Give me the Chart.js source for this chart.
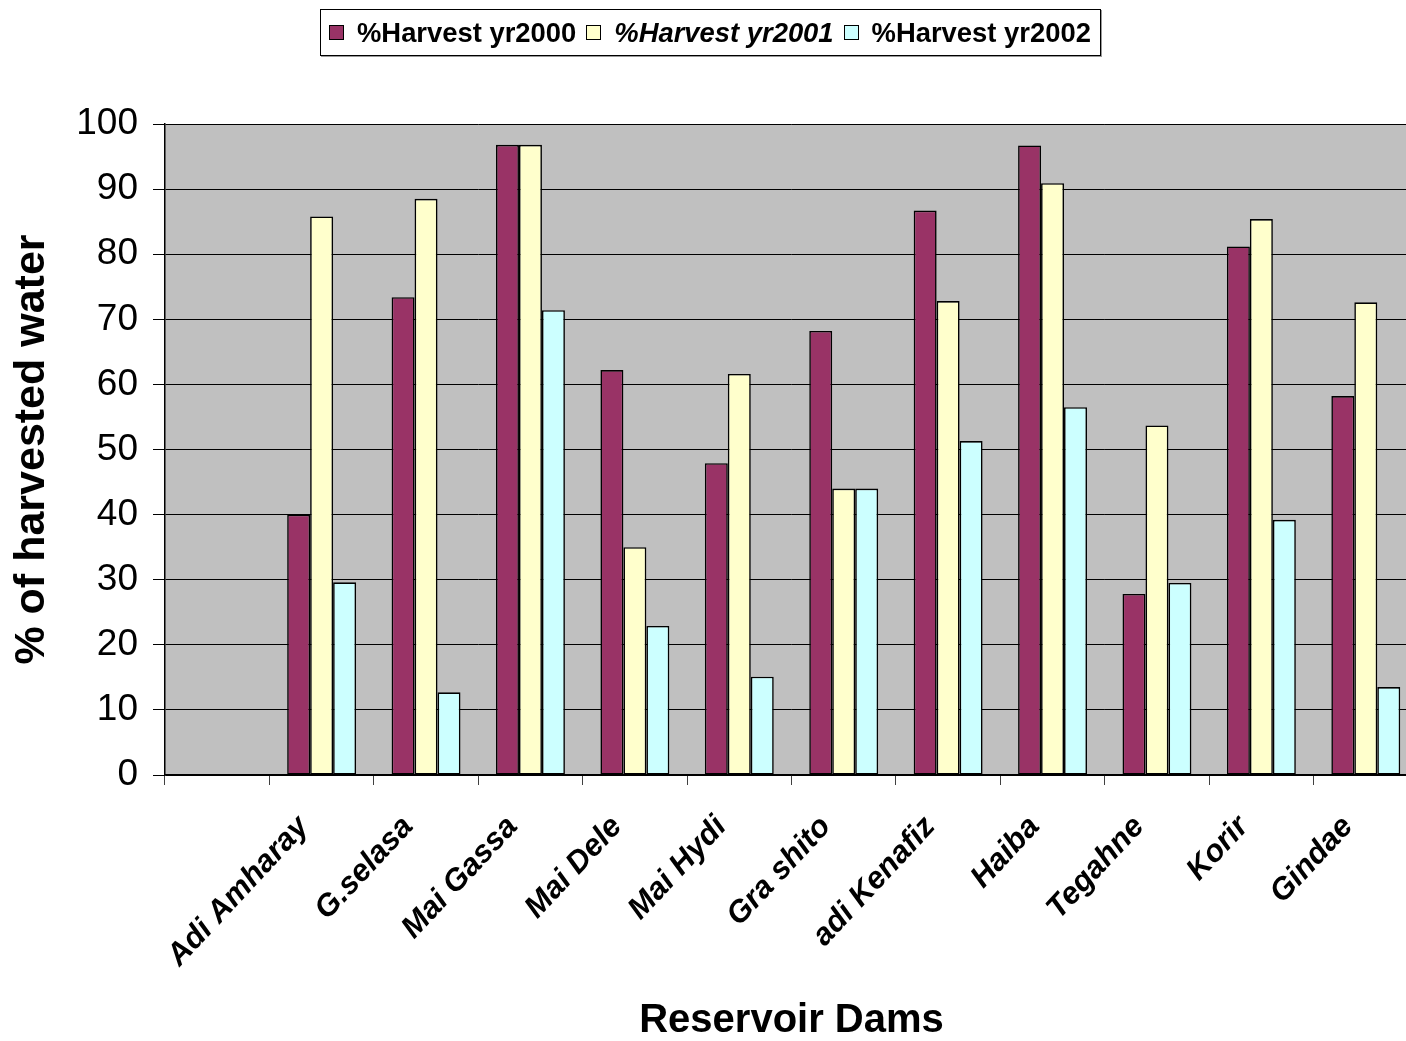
<!DOCTYPE html>
<html>
<head>
<meta charset="utf-8">
<title>Harvested water by reservoir dam</title>
<script src="https://cdn.jsdelivr.net/npm/chart.js@4.4.1/dist/chart.umd.min.js"></script>
<style>
  html, body { margin: 0; padding: 0; background: #fff; overflow: hidden; width: 1406px; height: 1041px; }
  #wrap { position: relative; width: 1406px; height: 1041px; overflow: hidden; }
  #chart { position: absolute; left: 0; top: 0; }
  #legend {
    position: absolute; left: 320px; top: 9px; height: 47px; box-sizing: border-box;
    padding: 0 9px 0 8px; border: 1px solid #000; box-shadow: 1px 1px 0 #999; background: #fff;
    display: flex; align-items: center; white-space: nowrap;
    font-family: 'Liberation Sans', Arial, sans-serif; font-weight: bold; font-size: 27.4px; color: #000;
  }
  #legend .item { display: flex; align-items: center; margin-right: 10px; }
  #legend .item:last-child { margin-right: 0; }
  #legend .sw { width: 13px; height: 13px; border: 1px solid #000; margin-right: 13px; }
</style>
</head>
<body>
<div id="wrap">
  <canvas id="chart" width="1430" height="1041"></canvas>
  <div id="legend"></div>
</div>
<script>
// Reservoir dams (the first slot of the axis is left blank)
const dams = ['', 'Adi Amharay', 'G.selasa', 'Mai Gassa', 'Mai Dele', 'Mai Hydi', 'Gra shito',
              'adi Kenafiz', 'Haiba', 'Tegahne', 'Korir', 'Gindae'];

// Percentage of harvested water per year
const harvest2000 = [null, 40.0, 73.4, 96.8, 62.2, 47.9, 68.2, 86.7, 96.7, 27.8, 81.2, 58.2];
const harvest2001 = [null, 85.8, 88.5, 96.8, 35.0, 61.6, 44.0, 72.8, 90.9, 53.7, 85.4, 72.6];
const harvest2002 = [null, 29.6, 12.7, 71.4, 22.9, 15.1, 44.0, 51.3, 56.5, 29.5, 39.2, 13.5];

const seriesNames = ['%Harvest yr2000', '%Harvest yr2001', '%Harvest yr2002'];
const seriesItalic = [false, true, false];
const seriesColors = ['#993366', '#FFFFCC', '#CCFFFF'];

const yTicks = { min: 0, max: 100, step: 10 };

const FONT = "'Liberation Sans', Arial, sans-serif";

// grey plot area behind the bars
const plotBackground = {
  id: 'plotBackground',
  beforeDraw(chart) {
    const { ctx, chartArea: a } = chart;
    ctx.save();
    ctx.fillStyle = '#C0C0C0';
    ctx.fillRect(a.left, a.top, a.right - a.left, a.bottom - a.top);
    ctx.restore();
  }
};

const values = [harvest2000, harvest2001, harvest2002];

new Chart(document.getElementById('chart'), {
  type: 'bar',
  data: {
    labels: dams,
    datasets: values.map((v, i) => ({
      label: seriesNames[i],
      data: v,
      backgroundColor: seriesColors[i],
      borderColor: '#000',
      borderWidth: 1.6,
      borderSkipped: false,
      categoryPercentage: 0.66,
      barPercentage: 1
    }))
  },
  options: {
    responsive: false,
    animation: false,
    events: [],
    layout: { padding: { top: 124, right: 12, left: 0, bottom: 0 } },
    plugins: { legend: { display: false }, tooltip: { enabled: false } },
    scales: {
      x: {
        grid: { display: true, drawOnChartArea: false, drawTicks: true, tickLength: 10, color: '#404040', lineWidth: 1, offset: true },
        border: { display: true, color: '#000', width: 1.5 },
        ticks: {
          autoSkip: false, minRotation: 47, maxRotation: 47, padding: 24, labelOffset: -18, color: '#000',
          font: { family: FONT, size: 31, weight: 'bold', style: 'italic' }
        },
        title: {
          display: true, text: 'Reservoir Dams', color: '#000',
          font: { family: FONT, size: 40, weight: 'bold', lineHeight: 1 },
          padding: { top: 0, bottom: 0 }
        },
        afterFit(s) { s.height = 266; s.paddingLeft = 0; s.paddingRight = 0; }
      },
      y: {
        min: yTicks.min, max: yTicks.max,
        ticks: { stepSize: yTicks.step, padding: 15, color: '#000', font: { family: FONT, size: 37 } },
        grid: { color: '#000', lineWidth: 1, tickLength: 12, drawTicks: true },
        border: { display: true, color: '#000', width: 1.5 },
        title: {
          display: true, text: '% of harvested water', color: '#000',
          font: { family: FONT, size: 43, weight: 'bold', lineHeight: 1 },
          padding: { top: 11, bottom: 0 }
        },
        afterFit(s) { s.width = 165; s.paddingTop = 0; s.paddingBottom = 0; }
      }
    }
  },
  plugins: [plotBackground]
});

// legend box above the plot
const legend = document.getElementById('legend');
seriesNames.forEach((name, i) => {
  const item = document.createElement('div');
  item.className = 'item';
  const sw = document.createElement('span');
  sw.className = 'sw';
  sw.style.background = seriesColors[i];
  const txt = document.createElement('span');
  txt.textContent = name;
  if (seriesItalic[i]) txt.style.fontStyle = 'italic';
  item.appendChild(sw);
  item.appendChild(txt);
  legend.appendChild(item);
});
</script>
</body>
</html>
